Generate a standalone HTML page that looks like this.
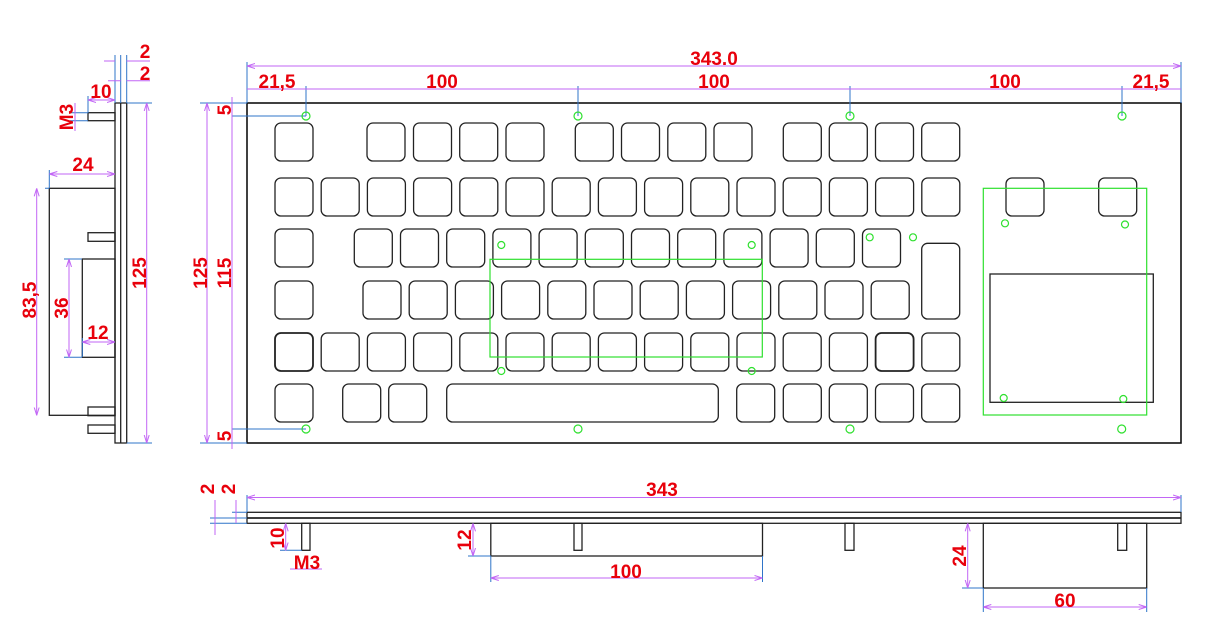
<!DOCTYPE html>
<html><head><meta charset="utf-8"><style>
html,body{margin:0;padding:0;background:#fff}
svg{display:block}
text{font-family:"Liberation Sans",Arial,sans-serif;font-weight:bold;font-size:19px;fill:#e8000b}
.k{fill:none;stroke:#222;stroke-width:1.3}
.o{fill:none;stroke:#111;stroke-width:1.6}
.g{fill:none;stroke:#2ee02e;stroke-width:1.2}
.d{stroke:#c266f5;stroke-width:1;fill:none}
.b{stroke:#2f74c8;stroke-width:1;fill:none}
</style></head><body>
<svg width="1211" height="630" viewBox="0 0 1211 630" xmlns="http://www.w3.org/2000/svg">
<defs>
<marker id="a" markerWidth="8" markerHeight="6" refX="8" refY="3" orient="auto-start-reverse" markerUnits="userSpaceOnUse"><path d="M0,0.5 L8,3 L0,5.5" fill="none" stroke="#c266f5" stroke-width="1"/></marker>
</defs>

<rect x="247" y="103" width="934" height="340" class="o"/>

<path class="b" d="M247,62V103 M1181,62V103 M306,86V116 M578,86V116 M850,86V116 M1122,86V116 M232,116H306 M232,429H306 M200,103H247 M200,443H247"/>
<line class="d" x1="247" y1="66" x2="1181" y2="66" marker-start="url(#a)" marker-end="url(#a)"/>
<text x="714" y="65" text-anchor="middle">343.0</text>
<line class="d" x1="247" y1="89" x2="1181" y2="89"/>
<path class="d" d="M247,89h8 M306,89h-8 M306,89h8 M578,89h-8 M578,89h8 M850,89h-8 M850,89h8 M1122,89h-8 M1122,89h8 M1181,89h-8"/>
<text x="277" y="88" text-anchor="middle">21,5</text>
<text x="442" y="88" text-anchor="middle">100</text>
<text x="714" y="88" text-anchor="middle">100</text>
<text x="1005" y="88" text-anchor="middle">100</text>
<text x="1151" y="88" text-anchor="middle">21,5</text>
<line class="d" x1="207" y1="103" x2="207" y2="443" marker-start="url(#a)" marker-end="url(#a)"/>
<text transform="translate(207,273) rotate(-90)" text-anchor="middle">125</text>
<line class="d" x1="232" y1="97" x2="232" y2="449"/>
<path class="d" d="M232,103v-6 M232,116v8 M232,429v-8 M232,443v6"/>
<text transform="translate(231,273) rotate(-90)" text-anchor="middle">115</text>
<text transform="translate(231,110) rotate(-90)" text-anchor="middle">5</text>
<text transform="translate(231,436) rotate(-90)" text-anchor="middle">5</text>

<g class="k">
<rect x="275" y="123" width="38" height="38" rx="6"/>
<rect x="367" y="123" width="38" height="38" rx="6"/>
<rect x="413.5" y="123" width="38" height="38" rx="6"/>
<rect x="459.7" y="123" width="38" height="38" rx="6"/>
<rect x="506" y="123" width="38" height="38" rx="6"/>
<rect x="575.3" y="123" width="38" height="38" rx="6"/>
<rect x="621.5" y="123" width="38" height="38" rx="6"/>
<rect x="667.8" y="123" width="38" height="38" rx="6"/>
<rect x="714" y="123" width="38" height="38" rx="6"/>
<rect x="783.3" y="123" width="38" height="38" rx="6"/>
<rect x="829.3" y="123" width="38" height="38" rx="6"/>
<rect x="875.5" y="123" width="38" height="38" rx="6"/>
<rect x="921.7" y="123" width="38" height="38" rx="6"/>
<rect x="275" y="178" width="38" height="38" rx="6"/>
<rect x="321.2" y="178" width="38" height="38" rx="6"/>
<rect x="367.4" y="178" width="38" height="38" rx="6"/>
<rect x="413.6" y="178" width="38" height="38" rx="6"/>
<rect x="459.8" y="178" width="38" height="38" rx="6"/>
<rect x="506" y="178" width="38" height="38" rx="6"/>
<rect x="552.2" y="178" width="38" height="38" rx="6"/>
<rect x="598.4" y="178" width="38" height="38" rx="6"/>
<rect x="644.6" y="178" width="38" height="38" rx="6"/>
<rect x="690.8" y="178" width="38" height="38" rx="6"/>
<rect x="737" y="178" width="38" height="38" rx="6"/>
<rect x="783.2" y="178" width="38" height="38" rx="6"/>
<rect x="829.4" y="178" width="38" height="38" rx="6"/>
<rect x="875.6" y="178" width="38" height="38" rx="6"/>
<rect x="921.8" y="178" width="38" height="38" rx="6"/>
<rect x="1006" y="178" width="38" height="38" rx="6"/>
<rect x="1098.7" y="178" width="38" height="38" rx="6"/>
<rect x="275" y="229" width="38" height="38" rx="6"/>
<rect x="354.3" y="229" width="38" height="38" rx="6"/>
<rect x="400.5" y="229" width="38" height="38" rx="6"/>
<rect x="446.7" y="229" width="38" height="38" rx="6"/>
<rect x="492.9" y="229" width="38" height="38" rx="6"/>
<rect x="539.1" y="229" width="38" height="38" rx="6"/>
<rect x="585.3" y="229" width="38" height="38" rx="6"/>
<rect x="631.5" y="229" width="38" height="38" rx="6"/>
<rect x="677.7" y="229" width="38" height="38" rx="6"/>
<rect x="723.9" y="229" width="38" height="38" rx="6"/>
<rect x="770.1" y="229" width="38" height="38" rx="6"/>
<rect x="816.3" y="229" width="38" height="38" rx="6"/>
<rect x="862.5" y="229" width="38" height="38" rx="6"/>
<rect x="921.7" y="243.3" width="38" height="75.7" rx="6"/>
<rect x="275" y="281" width="38" height="38" rx="6"/>
<rect x="363" y="281" width="38" height="38" rx="6"/>
<rect x="409.2" y="281" width="38" height="38" rx="6"/>
<rect x="455.4" y="281" width="38" height="38" rx="6"/>
<rect x="501.6" y="281" width="38" height="38" rx="6"/>
<rect x="547.8" y="281" width="38" height="38" rx="6"/>
<rect x="594" y="281" width="38" height="38" rx="6"/>
<rect x="640.2" y="281" width="38" height="38" rx="6"/>
<rect x="686.4" y="281" width="38" height="38" rx="6"/>
<rect x="732.6" y="281" width="38" height="38" rx="6"/>
<rect x="778.8" y="281" width="38" height="38" rx="6"/>
<rect x="825" y="281" width="38" height="38" rx="6"/>
<rect x="871.2" y="281" width="38" height="38" rx="6"/>
<rect x="275" y="333" width="38" height="38" rx="6" style="stroke-width:1.8"/>
<rect x="321.2" y="333" width="38" height="38" rx="6"/>
<rect x="367.4" y="333" width="38" height="38" rx="6"/>
<rect x="413.6" y="333" width="38" height="38" rx="6"/>
<rect x="459.8" y="333" width="38" height="38" rx="6"/>
<rect x="506" y="333" width="38" height="38" rx="6"/>
<rect x="552.2" y="333" width="38" height="38" rx="6"/>
<rect x="598.4" y="333" width="38" height="38" rx="6"/>
<rect x="644.6" y="333" width="38" height="38" rx="6"/>
<rect x="690.8" y="333" width="38" height="38" rx="6"/>
<rect x="737" y="333" width="38" height="38" rx="6"/>
<rect x="783.2" y="333" width="38" height="38" rx="6"/>
<rect x="829.4" y="333" width="38" height="38" rx="6"/>
<rect x="875.6" y="333" width="38" height="38" rx="6" style="stroke-width:1.8"/>
<rect x="921.8" y="333" width="38" height="38" rx="6"/>
<rect x="275" y="384" width="38" height="38" rx="6"/>
<rect x="342.7" y="384" width="38" height="38" rx="6"/>
<rect x="388.7" y="384" width="38" height="38" rx="6"/>
<rect x="446.7" y="384" width="271.6" height="38" rx="6"/>
<rect x="736.7" y="384" width="38" height="38" rx="6"/>
<rect x="783.3" y="384" width="38" height="38" rx="6"/>
<rect x="829.3" y="384" width="38" height="38" rx="6"/>
<rect x="875.5" y="384" width="38" height="38" rx="6"/>
<rect x="921.7" y="384" width="38" height="38" rx="6"/>
</g>
<rect x="990" y="274" width="163.3" height="128.3" class="k"/>

<g class="g">
<rect x="490" y="259.3" width="272.3" height="97.7"/>
<rect x="983.3" y="188.3" width="163.4" height="226.7"/>
<circle cx="306" cy="116" r="4"/><circle cx="578" cy="116" r="4"/><circle cx="850" cy="116" r="4"/><circle cx="1122" cy="116" r="4"/>
<circle cx="306" cy="429" r="4"/><circle cx="578" cy="429" r="4"/><circle cx="850" cy="429" r="4"/><circle cx="1121.7" cy="429" r="4"/>
<circle cx="501.3" cy="245" r="3.5"/><circle cx="751.7" cy="245" r="3.5"/><circle cx="501.3" cy="371" r="3.5"/><circle cx="751.7" cy="371" r="3.5"/>
<circle cx="869.7" cy="237.3" r="3.5"/><circle cx="913" cy="237.3" r="3.5"/>
<circle cx="1005" cy="223.3" r="3.5"/><circle cx="1125" cy="224.5" r="3.5"/>
<circle cx="1003.7" cy="398" r="3.5"/><circle cx="1123.3" cy="399" r="3.5"/>
</g>

<g class="k">
<rect x="115" y="103" width="11.7" height="340"/>
<line x1="120.7" y1="103" x2="120.7" y2="443"/>
<rect x="88" y="112.7" width="27" height="8"/>
<rect x="88" y="232.7" width="27" height="8.6"/>
<rect x="88" y="407" width="27" height="8.7"/>
<rect x="88" y="425" width="27" height="8.3"/>
<rect x="49.3" y="188.3" width="65.7" height="227"/>
<rect x="82.3" y="259" width="32.7" height="98.3"/>
</g>
<path class="b" d="M115,55V103 M120.7,55V103 M126.7,55V103 M126.7,103H152 M126.7,443H152 M88,96V113 M45,188.3H49.3 M49.3,170V188 M64,259H82 M64,357.3H82 M82.3,338V357 M70,112.7H88 M70,120.7H88"/>
<line class="d" x1="146.7" y1="103" x2="146.7" y2="443" marker-start="url(#a)" marker-end="url(#a)"/>
<text transform="translate(146,273) rotate(-90)" text-anchor="middle">125</text>
<line class="d" x1="36.7" y1="188.3" x2="36.7" y2="415.3" marker-start="url(#a)" marker-end="url(#a)"/>
<text transform="translate(36,300) rotate(-90)" text-anchor="middle">83,5</text>
<line class="d" x1="69" y1="259" x2="69" y2="357.3" marker-start="url(#a)" marker-end="url(#a)"/>
<text transform="translate(68,308) rotate(-90)" text-anchor="middle">36</text>
<line class="d" x1="82.3" y1="342" x2="115" y2="342" marker-start="url(#a)" marker-end="url(#a)"/>
<text x="98" y="339" text-anchor="middle">12</text>
<line class="d" x1="49.3" y1="174" x2="115" y2="174" marker-start="url(#a)" marker-end="url(#a)"/>
<text x="83" y="171" text-anchor="middle">24</text>
<line class="d" x1="88" y1="100" x2="115" y2="100" marker-start="url(#a)" marker-end="url(#a)"/>
<text x="101" y="98" text-anchor="middle">10</text>
<line class="d" x1="75" y1="103" x2="75" y2="131"/>
<text transform="translate(73,117) rotate(-90)" text-anchor="middle">M3</text>
<path class="d" d="M104,61H115 M126.7,61H150 M108,80.7H120.7 M126.7,80.7H150"/>
<text x="145" y="58" text-anchor="middle">2</text>
<text x="145" y="80" text-anchor="middle">2</text>

<g class="k">
<rect x="247" y="512.3" width="934" height="11"/>
<line x1="247" y1="518" x2="1181" y2="518" style="stroke-width:1.8"/>
<rect x="301.7" y="523.3" width="8.3" height="27"/>
<rect x="574" y="523.3" width="8" height="27"/>
<rect x="845" y="523.3" width="9" height="27"/>
<rect x="1117.7" y="523.3" width="9" height="27"/>
<rect x="490.8" y="523.3" width="271.7" height="32.7"/>
<rect x="983.3" y="523.3" width="163.4" height="64.7"/>
</g>
<path class="b" d="M247,495V512 M1181,495V512 M210,518H247 M232,512.3H247 M210,523.3H247 M280,550.3H302 M468,556H491 M490.8,556V582 M762.5,556V582 M962,588H983 M983.3,588V612 M1146.7,588V612"/>
<line class="d" x1="247" y1="497.5" x2="1181" y2="497.5" marker-start="url(#a)" marker-end="url(#a)"/>
<text x="662" y="496" text-anchor="middle">343</text>
<line class="d" x1="215" y1="500" x2="215" y2="535"/>
<line class="d" x1="236" y1="500" x2="236" y2="523"/>
<text transform="translate(214,489) rotate(-90)" text-anchor="middle">2</text>
<text transform="translate(235,489) rotate(-90)" text-anchor="middle">2</text>
<line class="d" x1="285.7" y1="523.3" x2="285.7" y2="550.3" marker-start="url(#a)" marker-end="url(#a)"/>
<text transform="translate(284,538) rotate(-90)" text-anchor="middle">10</text>
<line class="d" x1="290" y1="569" x2="322" y2="569"/>
<text x="307" y="569" text-anchor="middle">M3</text>
<line class="d" x1="473" y1="523.3" x2="473" y2="556" marker-start="url(#a)" marker-end="url(#a)"/>
<text transform="translate(471,540) rotate(-90)" text-anchor="middle">12</text>
<line class="d" x1="490.8" y1="578" x2="762.5" y2="578" marker-start="url(#a)" marker-end="url(#a)"/>
<text x="626" y="578" text-anchor="middle">100</text>
<line class="d" x1="967.7" y1="523.3" x2="967.7" y2="588" marker-start="url(#a)" marker-end="url(#a)"/>
<text transform="translate(966,556) rotate(-90)" text-anchor="middle">24</text>
<line class="d" x1="983.3" y1="607" x2="1146.7" y2="607" marker-start="url(#a)" marker-end="url(#a)"/>
<text x="1065" y="607" text-anchor="middle">60</text>
</svg>
</body></html>
